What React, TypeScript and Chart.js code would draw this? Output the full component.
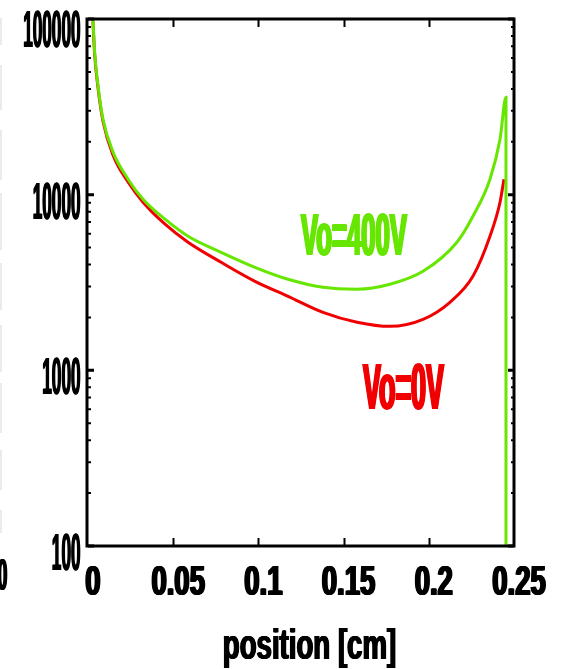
import React, { useEffect, useRef } from "react";
import { Chart, registerables } from "chart.js";

Chart.register(...registerables);

// Vo = 400V curve
const greenPos = [0.0029, 0.0039, 0.0059, 0.0088, 0.0147, 0.0235, 0.0323, 0.0452, 0.0587, 0.0781, 0.098, 0.1174, 0.1379, 0.1579, 0.1772, 0.1966, 0.2165, 0.2259, 0.2359, 0.2418, 0.2453, 0.2453];
const greenVal = [100000, 64900, 41500, 26900, 17460, 12250, 9420, 7250, 5800, 4700, 3860, 3300, 2970, 2895, 3090, 3660, 5360, 7540, 12250, 20700, 35900, 1];
// Vo = 0V curve
const redPos = [0.0029, 0.0039, 0.0059, 0.0088, 0.0147, 0.0235, 0.0323, 0.0452, 0.0587, 0.0781, 0.098, 0.1174, 0.1379, 0.1579, 0.1772, 0.1966, 0.2124, 0.2259, 0.2359, 0.2418, 0.2441];
const redVal = [97000, 63000, 40500, 26200, 16800, 11800, 9060, 6790, 5360, 4120, 3210, 2640, 2140, 1880, 1780, 1950, 2440, 3430, 5800, 9060, 12250];

const xTicks = [0, 0.05, 0.1, 0.15, 0.2, 0.25];
const xTickLabels = ["0", "0.05", "0.1", "0.15", "0.2", "0.25"];
const yTicks = [100, 1000, 10000, 100000];
const yTickLabels = ["100", "1000", "10000", "100000"];
const xTitle = "position [cm]";
const greenLabel = "Vo=400V";
const redLabel = "Vo=0V";

const GREEN = "#66e600";
const RED = "#f00000";
const FONT = '"Liberation Sans", Arial, sans-serif';

function fitText(ctx: CanvasRenderingContext2D, text: string, x: number, y: number, size: number, scaleX: number, align: "left" | "right" | "center", color: string, boldX = 1.5) {
  ctx.save();
  ctx.font = `bold ${size}px ${FONT}`;
  ctx.fillStyle = color;
  ctx.textBaseline = "alphabetic";
  const w = ctx.measureText(text).width * scaleX + boldX;
  let left = x;
  if (align === "right") left = x - w;
  else if (align === "center") left = x - w / 2;
  ctx.textAlign = "left";
  for (let d = 0; d <= boldX + 0.001; d += 0.5) {
    ctx.save();
    ctx.translate(left + d, y);
    ctx.scale(scaleX, 1);
    ctx.fillText(text, 0, 0);
    ctx.restore();
  }
  ctx.restore();
}

function fitWidth(ctx: CanvasRenderingContext2D, text: string, x: number, y: number, size: number, width: number, color: string, boldX = 1.5) {
  ctx.save();
  ctx.font = `bold ${size}px ${FONT}`;
  const w = ctx.measureText(text).width;
  ctx.restore();
  fitText(ctx, text, x, y, size, (width - boldX) / w, "left", color, boldX);
}

const framePlugin = {
  id: "frame",
  afterDatasetsDraw(chart: any) {
    const ctx: CanvasRenderingContext2D = chart.ctx;
    const xs = chart.scales.x;
    const ys = chart.scales.y;
    const { left, right, top, bottom } = chart.chartArea;
    ctx.save();
    // faint residue at the left edge
    ctx.strokeStyle = "#e4e4e4";
    ctx.lineWidth = 1.5;
    const segs = [[18, 45], [65, 110], [130, 180], [193, 250], [263, 310], [325, 372], [383, 433], [450, 490], [510, 533]];
    segs.forEach(([a, b]) => {
      ctx.beginPath();
      ctx.moveTo(1, a);
      ctx.lineTo(1, b);
      ctx.stroke();
    });
    // frame
    ctx.strokeStyle = "#000";
    ctx.lineWidth = 3;
    ctx.strokeRect(left - 1, top, right - left + 1, bottom - top);
    // x ticks (bottom and top, inward)
    ctx.lineWidth = 2;
    xTicks.forEach((v) => {
      if (v === 0 || v === 0.25) return;
      const px = Math.round(xs.getPixelForValue(v)) + 0.5;
      ctx.beginPath();
      ctx.moveTo(px, bottom);
      ctx.lineTo(px, bottom - 8);
      ctx.moveTo(px, top);
      ctx.lineTo(px, top + 8);
      ctx.stroke();
    });
    // y ticks (left and right, major + minor)
    yTicks.forEach((dec, i) => {
      const py = ys.getPixelForValue(dec);
      ctx.lineWidth = 3;
      ctx.beginPath();
      ctx.moveTo(left, py);
      ctx.lineTo(left + 6, py);
      ctx.moveTo(right, py);
      ctx.lineTo(right - 6, py);
      ctx.stroke();
      if (i < yTicks.length - 1) {
        ctx.lineWidth = 2;
        for (let m = 2; m <= 9; m++) {
          const p = ys.getPixelForValue(dec * m);
          ctx.beginPath();
          ctx.moveTo(left, p);
          ctx.lineTo(left + 3, p);
          ctx.moveTo(right, p);
          ctx.lineTo(right - 3, p);
          ctx.stroke();
        }
      }
    });
    ctx.restore();

    // y tick labels
    yTicks.forEach((v, i) => {
      const py = ys.getPixelForValue(v);
      fitText(ctx, yTickLabels[i], 81, Math.max(py + 24, 47), 52, 0.33, "right", "#000", 1);
    });
    // residue of a cut-off label at the left edge
    fitText(ctx, "00", 8, 590, 44, 0.4, "right", "#000", 1.5);
    // x tick labels
    xTicks.forEach((v, i) => {
      const px = xs.getPixelForValue(v);
      fitText(ctx, xTickLabels[i], px + 5, 595, 43, 0.64, "center", "#000", 2);
    });
    // axis title
    fitWidth(ctx, xTitle, 222, 659, 42, 175, "#000", 1.5);
    // series annotations
    fitWidth(ctx, greenLabel, 300, 255, 60, 108, GREEN, 2);
    fitWidth(ctx, redLabel, 362, 409, 64, 83, RED, 2);
  },
};

export default function App() {
  const ref = useRef<HTMLCanvasElement | null>(null);
  useEffect(() => {
    if (!ref.current) return;
    const chart = new Chart(ref.current, {
      type: "line",
      data: {
        datasets: [
          {
            label: greenLabel,
            data: greenPos.map((x, i) => ({ x, y: greenVal[i] })),
            borderColor: GREEN,
            borderWidth: 3,
            pointRadius: 0,
            cubicInterpolationMode: "monotone",
            fill: false,
          },
          {
            label: redLabel,
            data: redPos.map((x, i) => ({ x, y: redVal[i] })),
            borderColor: RED,
            borderWidth: 3,
            pointRadius: 0,
            cubicInterpolationMode: "monotone",
            fill: false,
          },
        ],
      },
      options: {
        responsive: false,
        animation: false,
        devicePixelRatio: 1,
        layout: { padding: { left: 88, right: 55, top: 19, bottom: 123 } },
        plugins: { legend: { display: false }, tooltip: { enabled: false } },
        scales: {
          x: { type: "linear", min: 0, max: 0.25, display: false },
          y: { type: "logarithmic", min: 100, max: 100000, display: false },
        },
      },
      plugins: [framePlugin],
    });
    return () => chart.destroy();
  }, []);
  return (
    <div style={{ position: "absolute", left: 0, top: 0, width: 569, height: 669, background: "#fff" }}>
      <canvas ref={ref} width={569} height={669} style={{ display: "block" }} />
    </div>
  );
}
